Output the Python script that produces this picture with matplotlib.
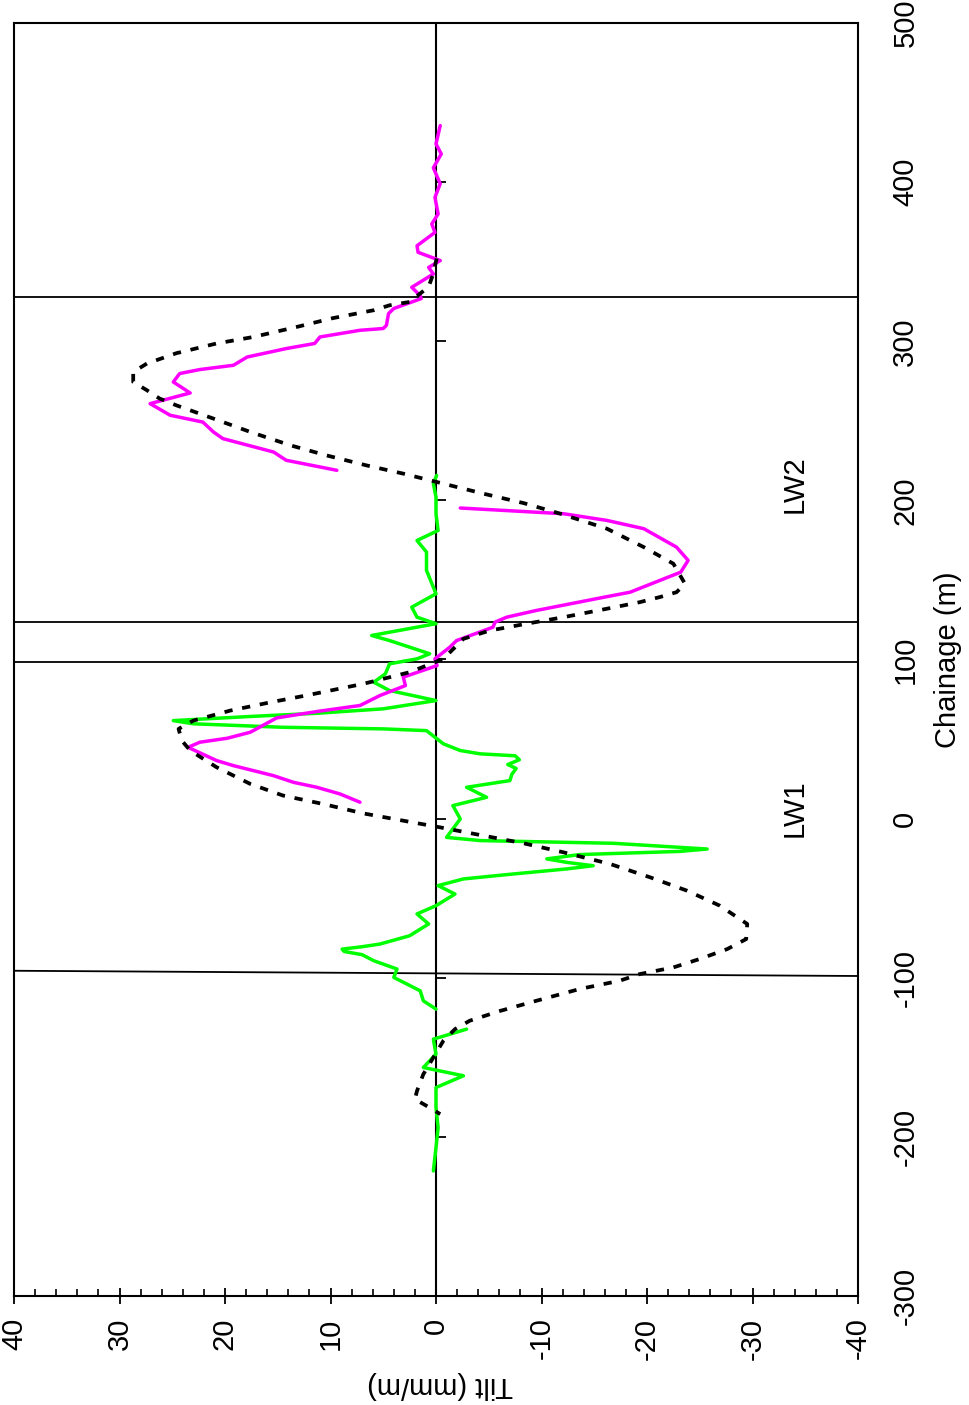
import numpy as np
import matplotlib
matplotlib.use("Agg")
import matplotlib.pyplot as plt
from matplotlib.ticker import MultipleLocator, FuncFormatter

plt.rcParams['font.family'] = ['Liberation Sans', 'DejaVu Sans']

# ---------------- data (chainage in m, tilt in mm/m) ----------------
pred_ch = [352, 342.6, 334.2, 324.7, 322.6, 319.5, 314.5, 309, 302.7, 298.6, 292.5, 286, 280.7,
           274.4, 269.2, 264, 259.7, 251.4, 243, 234.6, 228.3, 222, 216.8, 210.5, 204.2, 198.3,
           191.6, 182.2, 170.6, 160.2, 147.6, 142.3, 139.2, 136, 131.9, 126.6, 122.5, 118.2, 113,
           100.4, 92, 84.7, 77.4, 73.1, 67.9, 61.6, 56.4, 49.1, 42.8, 32.3, 21.8, 14.5, 9.2, 3.3,
           -1.3, -5.5, -10.7, -15.5, -21.2, -28.5, -36.9, -45.3, -54.7, -66.2, -75.7, -82, -88.2,
           -93.5, -97.7, -101.9, -107.1, -114.5, -120.8, -127, -132.3, -139.6, -150.1, -160.6,
           -171.1, -176.3, -180.5, -185.7]
pred_tilt = [-0.06, 0.25, 0.7, 2.5, 4.4, 5.9, 9.8, 13.2, 17.3, 20.8, 24.6, 27.4, 28.7,
             28.7, 27.4, 26.2, 24.6, 21.1, 17.6, 13.8, 10.4, 6.6, 3.1, -0.7, -4.5, -8.3,
             -11.8, -16.2, -19.7, -22.5, -23.6, -22.8, -21.2, -19.3, -16.2, -12.1, -8.6, -5.1, -2.6,
             -0.7, 2.5, 6.9, 12.3, 15.7, 19.5, 23.0, 24.4, 24.1, 23.3, 20.8, 17.6, 14.5, 10.7, 6.9,
             3.1, -0.4, -4.5, -8.3, -12.1, -16.5, -20.3, -23.8, -26.9, -29.5, -29.4, -27.6, -25.0,
             -22.5, -19.3, -17.4, -13.6, -9.5, -6.1, -3.2, -1.8, -0.7, 0.25, 1.2,
             1.8, 2.0, 0.9, -0.4]

lw2_ch = [435.5, 424, 417.7, 409, 399, 390.4, 380, 373.7, 368.4, 360, 355.9, 350.7, 346.4, 342.3,
          333.9, 328.7, 326.8, 320.6, 317.4, 310, 308, 306.9, 302.7, 298.6, 295.4, 290.1, 284.9,
          282.2, 279.7, 274.4, 267.5, 260.8, 253.5, 249.2, 243, 238.8, 230.4, 225.2, 218.9,
          np.nan,
          195.2, 191.6, 187.4, 182.2, 170.6, 162.3, 154.9, 146.5, 142.3, 138.2, 130.8, 126.6,
          123.5, 120.3, 111.9, 107.7, 100.4, 96.2, 88.9, 83.6, 77.4, 71.1, 67.3, 63.3, 54.3,
          50.5, 48.0, 44.8, 36.5, 33.3, 27.0, 22.8, 19.7, 15.5, 10.3]
lw2_tilt = [-0.4, 0.0, -0.5, 0.25, -0.4, 0.1, -0.2, 0.4, 0.1, 1.8, 1.7, -0.4, 0.7, 0.25,
            2.3, 1.5, 1.4, 4.0, 4.5, 4.7, 5.0, 7.2, 11.0, 11.5, 14.2, 17.9, 19.2,
            22.4, 24.3, 24.9, 23.3, 27.1, 25.2, 22.1, 21.1, 20.2, 15.4, 14.2, 9.4,
            np.nan,
            -2.3, -12.1, -16.2, -19.7, -22.8, -23.9, -23.2, -20.0, -18.4, -15.2, -9.5, -6.7,
            -5.6, -5.4, -1.95, -1.3, 0.1, -0.1, 3.1, 2.9, 5.3, 7.2, 11.3, 15.1, 17.6,
            19.8, 22.4, 23.5, 20.8, 19.2, 15.4, 13.5, 11.3, 9.1, 7.2]

lw1_ch = [215.7, 210.5, 202.1, 191.6, 181.1, 174.8, 167.5, 156, 141.3, 132.9, 126.6, 122.5,
          115.1, 111.9, 103.6, 100.4, 97.3, 91, 85.7, 80.5, 74.2, 69, 66.2, 64.2, 61.6, 59.6,
          57.4, 56.4, 55.3, 47, 42.8, 40.7, 39.5, 37, 34, 31.5, 28, 23.9, 19.7, 13.4, 8.2,
          -0.2, -11.8, -13.8, -15.5, -19.1, -20.6, -22.6, -25.3, -27.5, -29.6, -31.6, -34.8,
          -37.9, -42.1, -47.4, -54.7, -59.9, -66.2, -73.6, -78.8, -80.5, -82.0, -83.5, -85.5,
          -89.3, -94.5, -99.8, -108.2, -114.5, -119.7,
          np.nan,
          -132.3, -138.6, -148, -156.4, -161.6, -169, -181.6, -194.2, -206.7, -221.4]
lw1_tilt = [-0.06, 0.25, 0, 0, -0.2, 1.8, 0.9, 0.9, 0, 2.3, 1.8, 0,
            6.1, 4.4, 0.6, 1.8, 4.4, 4.8, 5.9, 4.4, 0, 5.0, 11.3, 17.6, 24.9, 23.0,
            14.5, 5.0, 0.9, -0.7, -2.3, -4.2, -7.5, -7.9, -6.8, -7.6, -7.2, -7.0, -2.9, -4.8, -1.6,
            -2.3, -1.0, -4.2, -16.8, -25.7, -23.1, -13.6, -10.5, -12.4, -14.9, -12.4, -7.3,
            -2.6, -0.2, -1.8, 0, 1.8, 0.7, 2.5, 5.3, 7.0, 8.9, 8.7, 7.0,
            5.9, 3.7, 4.0, 1.5, 1.2, 0,
            np.nan,
            -2.9, 0.25, 0, 1.2, -2.6, 0, 0, -0.2, 0, 0.25]

# reference (panel edge) lines: chainage values
ref_ch = [327.7, 123.3, 98.7]
slant_ref_ch = [-95.6, -98.9]   # at tilt +40 and -40
slant_ref_tilt = [40, -40]

ch_ticks = list(range(-300, 501, 100))

# ---------------- figure ----------------
W, H = 969, 1405
fig = plt.figure(figsize=(W / 100, H / 100), dpi=100)
x0, x1, y0, y1 = 14, 858, 23, 1296
ax = fig.add_axes([x0 / W, 1 - y1 / H, (x1 - x0) / W, (y1 - y0) / H])
ax.set_xlim(40, -40)
ax.set_ylim(-300, 500)

for s in ax.spines.values():
    s.set_linewidth(1.5)
    s.set_color('black')

# zero line
ax.axvline(0, color='black', lw=1.5, zorder=2)
# reference lines
for c in ref_ch:
    ax.axhline(c, color='black', lw=1.3, zorder=2)
ax.plot(slant_ref_tilt, slant_ref_ch, color='black', lw=1.3, zorder=2)

# series
ax.plot(pred_tilt, pred_ch, color='black', lw=2.7, linestyle=(0, (2.2, 2.6)), zorder=4)
ax.plot(lw1_tilt, lw1_ch, color='#00FF00', lw=2.5, zorder=3,
        solid_joinstyle='round', solid_capstyle='round')
ax.plot(lw2_tilt, lw2_ch, color='#FF00FF', lw=2.5, zorder=3,
        solid_joinstyle='round', solid_capstyle='round')

fs = 21
# bottom (tilt) axis
ax.xaxis.set_major_locator(MultipleLocator(10))
ax.xaxis.set_minor_locator(MultipleLocator(2))
ax.xaxis.set_major_formatter(FuncFormatter(lambda v, p: f"{v:.0f}"))
ax.tick_params(axis='x', which='major', direction='inout', length=11, width=1.3,
               labelsize=fs, labelrotation=90, pad=10, top=False)
ax.tick_params(axis='x', which='minor', direction='in', length=5, width=1.2, top=False)

# right (chainage) labels
ax.yaxis.tick_right()
ax.set_yticks(ch_ticks)
ax.yaxis.set_major_formatter(FuncFormatter(lambda v, p: f"{v:.0f}"))
ax.tick_params(axis='y', which='major', length=0, labelsize=fs, labelrotation=90, pad=24,
               left=False, right=True)
for lab in ax.get_yticklabels():
    lab.set_va('center')

# ticks on the zero line (pointing toward negative tilt)
sec = ax.secondary_yaxis(0.5)
sec.set_yticks(ch_ticks)
sec.tick_params(axis='y', direction='out', length=7, width=1.3,
                labelleft=False, labelright=False)
for s in sec.spines.values():
    s.set_visible(False)

# labels
fig.text(440 / W, 1 - 1385 / H, "Tilt (mm/m)", rotation=180, ha='center', va='center', fontsize=fs)
fig.text(948 / W, 1 - 660 / H, "Chainage (m)", rotation=90, ha='center', va='center', fontsize=fs)
ax.text(-34.0, 6.3, "LW1", rotation=90, ha='center', va='center', fontsize=fs)
ax.text(-34.0, 210, "LW2", rotation=90, ha='center', va='center', fontsize=fs)

fig.savefig("out.png", dpi=100)
